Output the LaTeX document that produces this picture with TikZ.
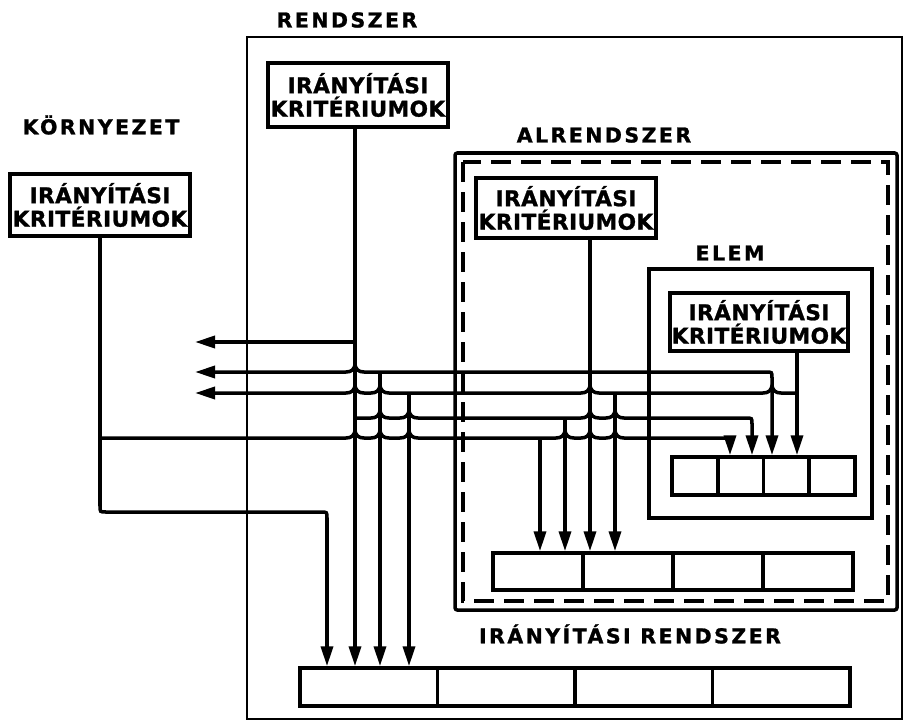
\documentclass[tikz,border=0pt]{standalone}
\usepackage{fontspec}
\newfontfamily\handcrit[LetterSpace=2,FakeBold=1.2]{DejaVu Sans}
\newfontfamily\handlbl[LetterSpace=12,FakeBold=1.2]{DejaVu Sans}
\usetikzlibrary{arrows.meta}
% upward bump where a horizontal line jumps over a vertical one at x=#1, y=#2
\newcommand\bmp[2]{-- ({#1-9},#2) .. controls ({#1-3},#2) and ({#1-1},{#2-3}) .. (#1,{#2-7}) .. controls ({#1+1},{#2-3}) and ({#1+3},#2) .. ({#1+9},#2)}
\begin{document}
\begin{tikzpicture}[x=0.03cm,y=-0.03cm,
  ln/.style={line width=3pt},
  crit/.style={draw,line width=3.4pt,minimum width=180*0.03cm,minimum height=62*0.03cm,
    inner sep=1pt,align=center,font=\handcrit\bfseries\fontsize{18.5}{20}\selectfont},
  lbl/.style={font=\handlbl\bfseries\fontsize{17.5}{19}\selectfont,inner sep=0pt},
  cell/.style={draw,line width=3pt,inner sep=0pt},
  rcell/.style={cell,minimum width=137.5*0.03cm,minimum height=38*0.03cm},
  acell/.style={cell,minimum width=90*0.03cm,minimum height=37*0.03cm},
  ecell/.style={cell,minimum width=45.75*0.03cm,minimum height=38*0.03cm},
  darr/.style={-{Triangle[length=0.6cm,width=0.36cm]}},
  larr/.style={{Triangle[length=0.6cm,width=0.36cm]}-},
  barr/.style={{Triangle[length=0.6cm,width=0.36cm]}-{Triangle[length=0.6cm,width=0.36cm]}},
  ]
\useasboundingbox (0,0) rectangle (905,726);

% containers
\draw[line width=2pt] (247,37) rectangle (902,719);
\draw[line width=3pt,rounded corners=2pt] (455,153) rectangle (897,610);
\draw[line width=3pt,dash pattern=on 0.6cm off 0.3cm] (463,162) rectangle (888,601);
\draw[line width=2.8pt] (649,269) rectangle (872,518);

% labels
\node[lbl] (lR) at (347,20) {RENDSZER};
\node[lbl] (lK) at (101,125) {KÖRNYEZET};
\node[lbl] (lA) at (604,135) {ALRENDSZER};
\node[lbl] (lE) at (730,253) {ELEM};
\node[lbl] (lI) at (630,634) {IRÁNYÍTÁSI RENDSZER};

% criteria boxes
\node[crit] (kcrit) at (100,205) {IRÁNYÍTÁSI\\KRITÉRIUMOK};
\node[crit,minimum height=64*0.03cm] (rcrit) at (358,95) {IRÁNYÍTÁSI\\KRITÉRIUMOK};
\node[crit,minimum height=60*0.03cm] (acrit) at (566,208) {IRÁNYÍTÁSI\\KRITÉRIUMOK};
\node[crit,minimum width=178*0.03cm,minimum height=58*0.03cm] (ecrit) at (759,322) {IRÁNYÍTÁSI\\KRITÉRIUMOK};

% control system cells
\node[rcell] (rc1) at (368.75,687) {};
\node[rcell] (rc2) at (506.25,687) {};
\node[rcell] (rc3) at (643.75,687) {};
\node[rcell] (rc4) at (781.25,687) {};
\node[acell] (ac1) at (538,571.5) {};
\node[acell] (ac2) at (628,571.5) {};
\node[acell] (ac3) at (718,571.5) {};
\node[acell] (ac4) at (808,571.5) {};
\node[ecell] (ec1) at (694.9,476) {};
\node[ecell] (ec2) at (740.6,476) {};
\node[ecell] (ec3) at (786.4,476) {};
\node[ecell] (ec4) at (832.1,476) {};

% line positions
\coordinate (xK) at (100,0);
\coordinate (xP) at (327,0);
\coordinate (xR) at (355,0);
\coordinate (x380) at (380,0);
\coordinate (x409) at (409,0);
\coordinate (x540) at (540,0);
\coordinate (x565) at (565,0);
\coordinate (xA) at (590,0);
\coordinate (x615) at (615,0);
\coordinate (x730) at (730,0);
\coordinate (x752) at (752,0);
\coordinate (x772) at (772,0);
\coordinate (xE) at (797,0);
\coordinate (jK) at (100,438);
\coordinate (jR1) at (355,342);
\coordinate (jR2) at (355,418);
\coordinate (jA) at (590,372);
\coordinate (jE) at (797,393);
\coordinate (tR) at (195,342);
\coordinate (tA) at (195,372);
\coordinate (tE) at (195,393);

% environment criteria
\draw[ln,darr] (kcrit.south -| xK) -- (100,506) .. controls (100,512) .. (106,512)
  -- (321,512) .. controls (327,512) .. (327,518) -- (rc1.north -| xP);
\draw[ln,darr] (jK) \bmp{355}{438}\bmp{380}{438}\bmp{409}{438} -- (540,438)
  \bmp{565}{438}\bmp{590}{438}\bmp{615}{438} -- (724,438) .. controls (730,438) .. (730,444)
  -- (ec2.north -| x730);
\draw[ln,darr] (540,438) -- (ac1.north -| x540);

% system criteria
\draw[ln,darr] (rcrit.south -| xR) -- (rc1.north -| xR);
\draw[ln,larr] (tR) -- (jR1);
\draw[ln,darr] (jR2) \bmp{380}{418}\bmp{409}{418} -- (565,418) \bmp{590}{418}\bmp{615}{418}
  -- (746,418) .. controls (752,418) .. (752,424) -- (ec2.north -| x752);
\draw[ln,darr] (565,418) -- (ac1.north -| x565);

% subsystem criteria
\draw[ln,darr] (acrit.south -| xA) -- (ac2.north -| xA);
\draw[ln,barr] (tA) \bmp{355}{372} -- (jA) -- (766,372) .. controls (772,372) .. (772,378)
  -- (ec3.north -| x772);
\draw[ln,darr] (380,372) -- (rc1.north -| x380);

% element criteria
\draw[ln,darr] (ecrit.south -| xE) -- (ec3.north -| xE);
\draw[ln,larr] (tE) \bmp{355}{393}\bmp{380}{393} -- (409,393) \bmp{590}{393} -- (615,393)
  \bmp{772}{393} -- (jE);
\draw[ln,darr] (409,393) -- (rc1.north -| x409);
\draw[ln,darr] (615,393) -- (ac2.north -| x615);
\end{tikzpicture}
\end{document}
